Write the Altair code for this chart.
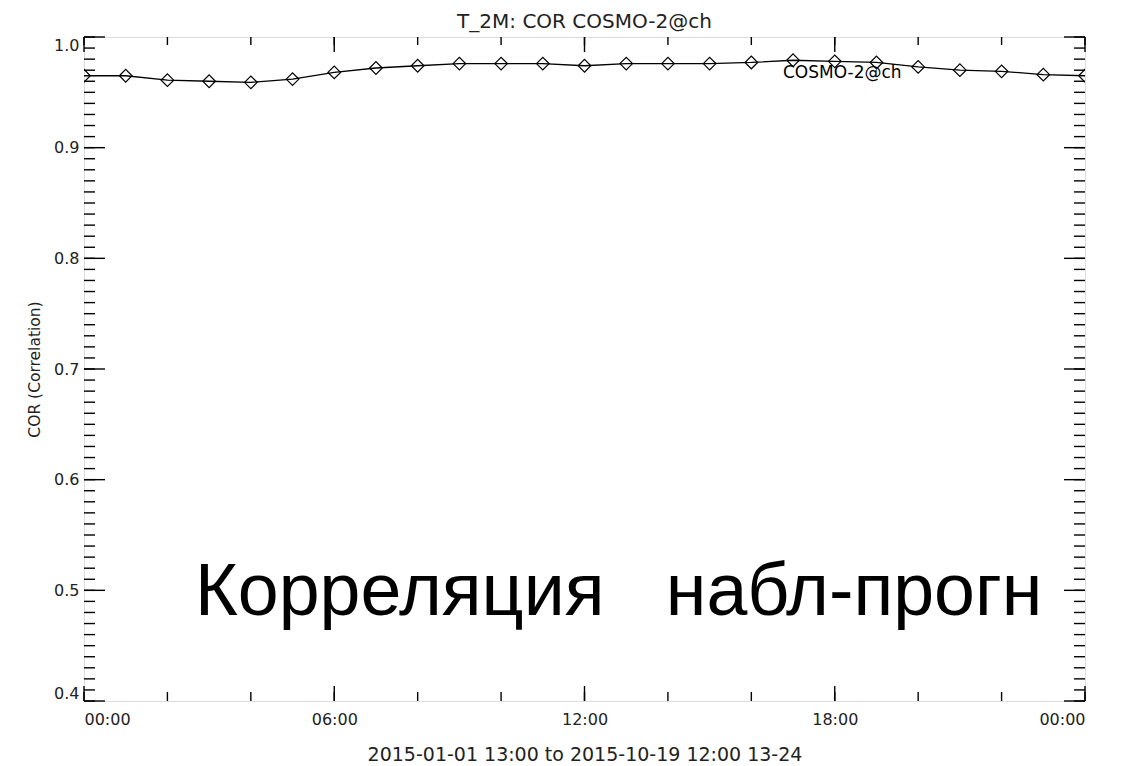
import altair as alt
import numpy as np
import pandas as pd

# ---- data ----
hours = list(range(25))
cor_values = [0.965, 0.965, 0.961, 0.960, 0.959, 0.962, 0.968, 0.972, 0.974,
              0.976, 0.976, 0.976, 0.974, 0.976, 0.976, 0.976, 0.977, 0.979,
              0.978, 0.977, 0.973, 0.970, 0.969, 0.966, 0.965]
x_major = [0, 6, 12, 18, 24]
x_minor = [0, 2, 4, 6, 8, 10, 12, 14, 16, 18, 20, 22, 24]
x_labels = ["00:00", "06:00", "12:00", "18:00", "00:00"]
y_major = [0.4, 0.5, 0.6, 0.7, 0.8, 0.9, 1.0]
y_minor = [round(v, 2) for v in np.arange(0.40, 1.0001, 0.01)]

title_text = "T_2M: COR COSMO-2@ch"
x_title = "2015-01-01 13:00 to 2015-10-19 12:00 13-24"
y_title = "COR (Correlation)"
series_name = "COSMO-2@ch"
big_text = "Корреляция\u00a0\u00a0\u00a0набл-прогн"

W, H = 1001, 664
FONT = "DejaVu Sans"

df = pd.DataFrame({"hour": hours, "cor": cor_values})
df_xmaj = pd.DataFrame({"h": x_major})
df_xmin = pd.DataFrame({"h": x_minor})
df_ymaj = pd.DataFrame({"v": y_major})
df_ymin = pd.DataFrame({"v": y_minor})

xscale = alt.Scale(domain=[0, 24], nice=False, zero=False)
yscale = alt.Scale(domain=[0.4, 1.0], nice=False, zero=False)

label_expr = "[" + ",".join("'%s'" % s for s in x_labels) + "][datum.value/6]"

x_axis = alt.Axis(values=x_major, labelExpr=label_expr,
                  ticks=False, tickSize=0, domain=False, grid=False, labelPadding=10,
                  labelFont=FONT, labelFontSize=16, labelColor="#222",
                  title=x_title, titleFont=FONT, titleFontSize=19, titleFontWeight="normal",
                  titleColor="#222", titlePadding=18)
y_axis = alt.Axis(values=y_major, format=".1f", ticks=False, tickSize=0, domain=False,
                  grid=False, labelPadding=5, labelFlush=True,
                  labelFont=FONT, labelFontSize=16, labelColor="#222",
                  title=y_title, titleFont=FONT, titleFontSize=15.5, titleFontWeight="normal",
                  titleColor="#222", titlePadding=11)

line = alt.Chart(df).mark_line(color="black", strokeWidth=1.3, clip=True).encode(
    x=alt.X("hour:Q", scale=xscale, axis=x_axis),
    y=alt.Y("cor:Q", scale=yscale, axis=y_axis),
)
points = alt.Chart(df).mark_point(shape="diamond", size=160, filled=False, color="black",
                                  strokeWidth=1.2, opacity=1, clip=True).encode(
    x=alt.X("hour:Q", scale=xscale),
    y=alt.Y("cor:Q", scale=yscale),
)

tick_style = dict(color="black", strokeWidth=1.4)
y_left_min = alt.Chart(df_ymin).mark_rule(**tick_style).encode(
    y=alt.Y("v:Q", scale=yscale), x=alt.value(0), x2=alt.value(11))
y_left_maj = alt.Chart(df_ymaj).mark_rule(**tick_style).encode(
    y=alt.Y("v:Q", scale=yscale), x=alt.value(0), x2=alt.value(21))
y_right_min = alt.Chart(df_ymin).mark_rule(**tick_style).encode(
    y=alt.Y("v:Q", scale=yscale), x=alt.value(W), x2=alt.value(W - 11))
y_right_maj = alt.Chart(df_ymaj).mark_rule(**tick_style).encode(
    y=alt.Y("v:Q", scale=yscale), x=alt.value(W), x2=alt.value(W - 21))
x_bot_min = alt.Chart(df_xmin).mark_rule(**tick_style).encode(
    x=alt.X("h:Q", scale=xscale), y=alt.value(H), y2=alt.value(H - 9))
x_bot_maj = alt.Chart(df_xmaj).mark_rule(**tick_style).encode(
    x=alt.X("h:Q", scale=xscale), y=alt.value(H), y2=alt.value(H - 15))
x_top_min = alt.Chart(df_xmin).mark_rule(**tick_style).encode(
    x=alt.X("h:Q", scale=xscale), y=alt.value(0), y2=alt.value(8))
x_top_maj = alt.Chart(df_xmaj).mark_rule(**tick_style).encode(
    x=alt.X("h:Q", scale=xscale), y=alt.value(0), y2=alt.value(15))

title_mark = alt.Chart(pd.DataFrame({"t": [title_text]})).mark_text(
    font=FONT, fontSize=20, color="#222", align="center", baseline="alphabetic").encode(
    text="t:N", x=alt.value(W / 2), y=alt.value(-9))

legend_label = alt.Chart(pd.DataFrame({"t": [series_name]})).mark_text(
    font=FONT, fontSize=17, color="black", align="left", baseline="alphabetic").encode(
    text="t:N", x=alt.value(699), y=alt.value(41))

big = alt.Chart(pd.DataFrame({"t": [big_text]})).mark_text(
    font="Liberation Sans", fontSize=73.5, color="black", align="left", baseline="alphabetic").encode(
    text="t:N", x=alt.value(111), y=alt.value(578))

chart = alt.layer(
    y_left_min, y_left_maj, y_right_min, y_right_maj,
    x_bot_min, x_bot_maj, x_top_min, x_top_maj,
    line, points, title_mark, legend_label, big,
).properties(
    width=W, height=H,
    autosize=alt.AutoSizeParams(type="none"),
    padding={"left": 76, "top": 29, "right": 25, "bottom": 62},
).configure_view(
    stroke="black", strokeWidth=1.5
).configure(background="white")

chart.save("out.html", embed_options={"renderer": "svg", "actions": False})
